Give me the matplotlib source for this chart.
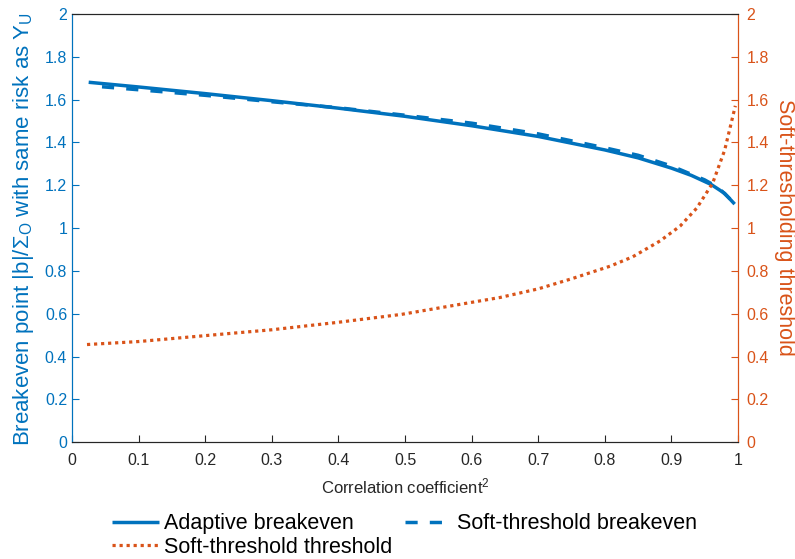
import numpy as np
import matplotlib
matplotlib.use("Agg")
import matplotlib.pyplot as plt
from matplotlib.ticker import FuncFormatter

plt.rcParams['font.family'] = ['Liberation Sans', 'DejaVu Sans']
plt.rcParams['mathtext.fontset'] = 'custom'
plt.rcParams['mathtext.rm'] = 'Liberation Sans'
plt.rcParams['mathtext.it'] = 'Liberation Sans:italic'

BLUE = '#0072BD'
ORANGE = '#D95319'

# adaptive breakeven (solid)
adapt_x = [0.025, 0.1, 0.2, 0.3, 0.4, 0.5, 0.6, 0.7, 0.8, 0.85, 0.9, 0.93, 0.96, 0.98, 0.995]
adapt_y = [1.681, 1.659, 1.628, 1.595, 1.560, 1.522, 1.478, 1.428, 1.365, 1.328, 1.280, 1.246, 1.203, 1.162, 1.112]

# soft-threshold breakeven (dashed)
soft_x = [0.045, 0.1, 0.2, 0.3, 0.4, 0.5, 0.6, 0.7, 0.8, 0.85, 0.9, 0.95, 0.97, 0.99]
soft_y = [1.660, 1.646, 1.620, 1.590, 1.562, 1.527, 1.490, 1.440, 1.375, 1.340, 1.290, 1.225, 1.190, 1.130]

# soft-thresholding threshold (dotted, right axis)
thr_x = [0.0225, 0.1, 0.165, 0.3, 0.4, 0.495, 0.643, 0.7, 0.75, 0.808, 0.842, 0.883, 0.913, 0.938, 0.962, 0.98, 0.996]
thr_y = [0.456, 0.470, 0.488, 0.525, 0.560, 0.597, 0.676, 0.716, 0.763, 0.822, 0.866, 0.940, 1.009, 1.093, 1.210, 1.364, 1.571]

fig = plt.figure(figsize=(7.95, 5.59), dpi=100)
ax = fig.add_axes([0.0906, 0.209, 0.8377, 0.766])
ax2 = ax.twinx()

l1, = ax.plot(adapt_x, adapt_y, color=BLUE, lw=2.5, solid_capstyle='butt')
l2, = ax.plot(soft_x, soft_y, color=BLUE, lw=2.5, dashes=(3.5, 3.5))
l3, = ax2.plot(thr_x, thr_y, color=ORANGE, lw=2.3, linestyle=(0, (1, 1.2)))

fmt = FuncFormatter(lambda v, p: '%g' % round(v, 2))
for a in (ax, ax2):
    a.set_xlim(0, 1)
    a.set_ylim(0, 2)
    a.set_yticks(np.arange(0, 2.01, 0.2))
    a.yaxis.set_major_formatter(fmt)
    a.tick_params(direction='in', length=5, width=0.8, labelsize=11.5)
ax.set_xticks(np.arange(0, 1.01, 0.1))
ax.xaxis.set_major_formatter(fmt)
ax.tick_params(axis='x', colors='#262626', pad=8)
ax.tick_params(axis='y', colors=BLUE, pad=3.5)
ax2.tick_params(axis='y', colors=ORANGE, pad=6)

for a in (ax, ax2):
    a.spines['top'].set_color('#262626')
    a.spines['bottom'].set_color('#262626')
    a.spines['left'].set_color(BLUE)
    a.spines['right'].set_color(ORANGE)
    for s in a.spines.values():
        s.set_linewidth(0.8)

ax.set_xlabel('Correlation coefficient$^2$', fontsize=12, color='#262626', labelpad=6)
fig.text(0.030, 0.590, r'Breakeven point |b|/$\Sigma_{\rm O}$ with same risk as Y$_{\rm U}$',
         fontsize=16, color=BLUE, rotation=90, ha='center', va='center', rotation_mode='anchor')
fig.text(0.987, 0.594, 'Soft-thresholding threshold', fontsize=15.5, color=ORANGE,
         rotation=-90, ha='center', va='center', rotation_mode='anchor')

fig.legend([l1, l3, l2], ['Adaptive breakeven', 'Soft-threshold threshold', 'Soft-threshold breakeven'],
           loc='center', bbox_to_anchor=(0.509, 0.042), ncol=2, frameon=False,
           fontsize=15.5, handlelength=2.15, columnspacing=0.6, labelspacing=0.1,
           handletextpad=0.25, borderpad=0.2)

fig.savefig('out.png', dpi=100)
